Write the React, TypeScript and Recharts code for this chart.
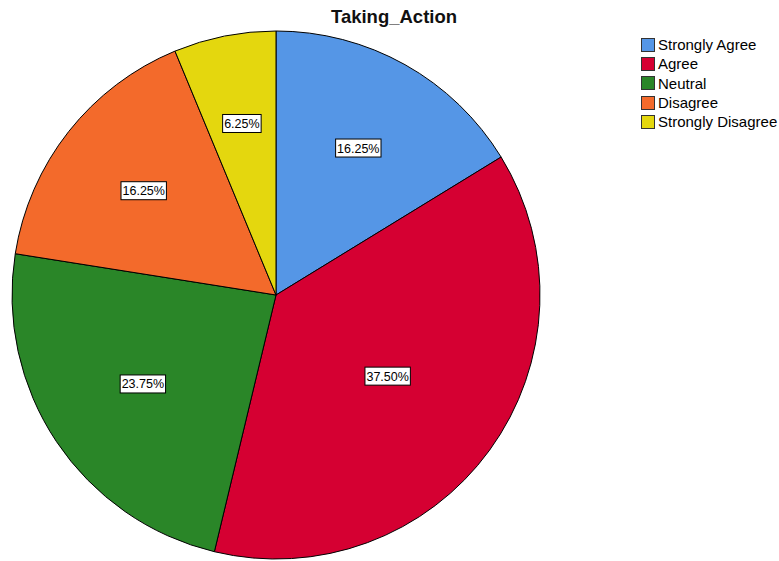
import { PieChart, Pie, Cell, Legend } from "recharts";

const categories = ["Strongly Agree", "Agree", "Neutral", "Disagree", "Strongly Disagree"];
const percents = [16.25, 37.5, 23.75, 16.25, 6.25];
const COLORS = ["#5596E6", "#D50032", "#2A8628", "#F36A2B", "#E4D70E"];

const data = categories.map((name, i) => ({ name, value: percents[i] }));

const RAD = Math.PI / 180;

// SPSS-style label: white box sitting near the slice centroid
function renderLabel(props: any) {
  const { cx, cy, midAngle, outerRadius, percent, value } = props;
  const theta = Math.max(percent * 2 * Math.PI, 0.01);
  const d = (4 * outerRadius * Math.sin(theta / 2)) / (3 * theta);
  const x = cx + d * Math.cos(-midAngle * RAD);
  const y = cy + d * Math.sin(-midAngle * RAD);
  const txt = `${value.toFixed(2)}%`;
  const w = txt.length * 6.9 + 4;
  const h = 18;
  return (
    <g>
      <rect x={x - w / 2} y={y - h / 2} width={w} height={h} fill="#fff" stroke="#000" strokeWidth={1} />
      <text
        x={x}
        y={y + 4.5}
        textAnchor="middle"
        fontSize={12.5}
        fontFamily="'Liberation Sans', Arial, sans-serif"
        fill="#000"
      >
        {txt}
      </text>
    </g>
  );
}

function LegendBox() {
  return (
    <div style={{ fontFamily: "'Liberation Sans', Arial, sans-serif", fontSize: 15, color: "#000" }}>
      {data.map((d, i) => (
        <div key={d.name} style={{ display: "flex", alignItems: "center", height: 19.3 }}>
          <div
            style={{
              width: 12,
              height: 12,
              background: COLORS[i],
              border: "1px solid #333",
              marginRight: 3,
            }}
          />
          <span>{d.name}</span>
        </div>
      ))}
    </div>
  );
}

export default function App() {
  return (
    <div style={{ position: "absolute", left: 0, top: 0, width: 779, height: 561, background: "#fff" }}>
      <div
        style={{
          position: "absolute",
          left: 0,
          width: 788,
          top: 6,
          textAlign: "center",
          fontFamily: "'Liberation Sans', Arial, sans-serif",
          fontWeight: "bold",
          fontSize: 18.5,
          color: "#111",
        }}
      >
        Taking_Action
      </div>
      <PieChart width={779} height={561} margin={{ top: 0, right: 0, bottom: 0, left: 0 }}>
        <Pie
          data={data}
          dataKey="value"
          nameKey="name"
          cx={276}
          cy={295}
          outerRadius={264}
          startAngle={90}
          endAngle={-270}
          stroke="#000"
          strokeWidth={1}
          labelLine={false}
          label={renderLabel}
          isAnimationActive={false}
        >
          {data.map((entry, index) => (
            <Cell key={`cell-${index}`} fill={COLORS[index % COLORS.length]} />
          ))}
        </Pie>
        <Legend
          content={<LegendBox />}
          wrapperStyle={{ position: "absolute", left: 641, top: 35, width: 140 }}
        />
      </PieChart>
    </div>
  );
}
